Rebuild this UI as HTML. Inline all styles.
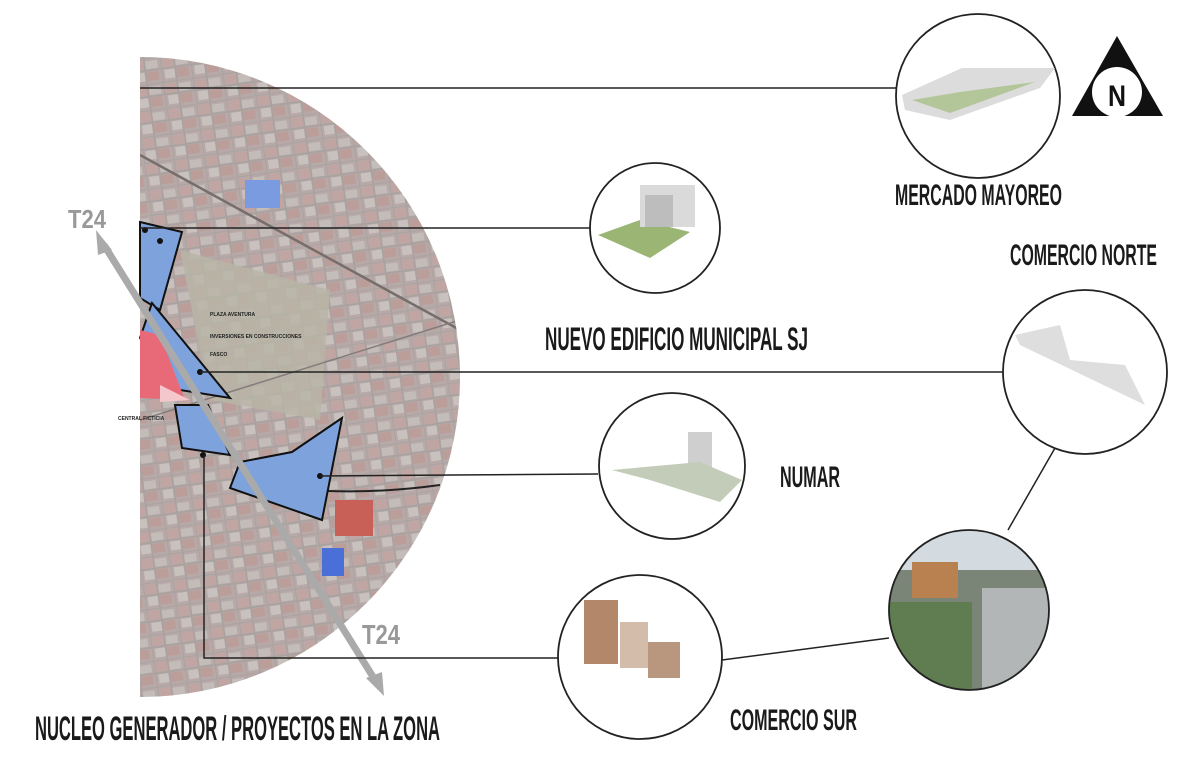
<!DOCTYPE html>
<html><head><meta charset="utf-8"><style>
html,body{margin:0;padding:0;background:#fff;width:1200px;height:776px;overflow:hidden}
svg{display:block}
text{font-family:"Liberation Sans Narrow","Liberation Sans",sans-serif;font-weight:bold}
</style></head><body>
<svg width="1200" height="776" viewBox="0 0 1200 776" xmlns="http://www.w3.org/2000/svg">
<defs>
<clipPath id="half"><path d="M140 57 A320 320 0 0 1 140 697 Z"/></clipPath>
<pattern id="city" width="30" height="26" patternUnits="userSpaceOnUse" patternTransform="rotate(-8)">
<rect width="30" height="26" fill="#a3918f"/>
<rect x="2" y="2" width="11" height="9" fill="#b08c88"/>
<rect x="15" y="3" width="12" height="8" fill="#b2aaa6"/>
<rect x="3" y="14" width="10" height="9" fill="#b9b0ac"/>
<rect x="15" y="14" width="12" height="9" fill="#a8837e"/>
<path d="M0 0H30M0 12.5H30M0 0V26M14 0V26" stroke="#8f8785" stroke-width="1.5"/>
</pattern>
<clipPath id="c6"><circle cx="969" cy="610" r="80"/></clipPath>
</defs>

<g clip-path="url(#half)">
<rect x="140" y="57" width="330" height="640" fill="url(#city)"/>
<rect x="140" y="57" width="330" height="640" fill="#fff" opacity="0.22"/>
<polygon points="180,250 330,290 320,420 210,400" fill="#b8b5a6" opacity="0.8"/>
<rect x="245" y="180" width="35" height="28" fill="#7b9be0"/>
<rect x="322" y="548" width="22" height="28" fill="#4a70d8"/>
<rect x="335" y="500" width="38" height="36" fill="#c86058"/>
<path d="M140 155 L460 330" stroke="#756e6c" stroke-width="2.5"/>
<path d="M140 420 L460 320" stroke="#837c7a" stroke-width="1.5"/>
<path d="M240 480 Q330 500 440 485" stroke="#222" stroke-width="2" fill="none"/>
</g>
<polygon points="140,222 182,232 160,310 140,298" fill="#7ea2dc" stroke="#111" stroke-width="2"/>
<polygon points="152,303 230,398 180,390 140,338" fill="#7ea2dc" stroke="#111" stroke-width="2"/>
<polygon points="140,330 160,335 185,400 140,398" fill="#e86a78"/>
<polygon points="160,385 190,400 160,402" fill="#f4c7cc"/>
<polygon points="175,405 208,405 230,455 182,448" fill="#7ea2dc" stroke="#111" stroke-width="2"/>
<polygon points="240,462 292,452 342,418 322,520 230,488" fill="#7ea2dc" stroke="#111" stroke-width="2"/>
<circle cx="145" cy="230" r="3" fill="#111"/><circle cx="160" cy="241" r="3" fill="#111"/>
<circle cx="200" cy="372" r="3" fill="#111"/><circle cx="320" cy="476" r="3" fill="#111"/>
<circle cx="203" cy="455" r="3" fill="#111"/>
<g fill="#222" font-size="5"><text x="210" y="316">PLAZA AVENTURA</text><text x="210" y="338">INVERSIONES EN CONSTRUCCIONES</text><text x="210" y="356">FASCO</text><text x="118" y="420">CENTRAL FICTICIA</text></g>

<line x1="104" y1="245" x2="375" y2="680" stroke="#aaa" stroke-width="7"/>
<polygon points="96,230 112,250 98,255" fill="#aaa"/>
<polygon points="384,696 366,678 382,672" fill="#aaa"/>
<text x="68" y="228" font-size="26" fill="#999" textLength="38" lengthAdjust="spacingAndGlyphs">T24</text>
<text x="362" y="644" font-size="28" fill="#999" textLength="38" lengthAdjust="spacingAndGlyphs">T24</text>

<g stroke="#222" stroke-width="1.5" fill="none">
<line x1="140" y1="88" x2="897" y2="88"/>
<line x1="140" y1="228" x2="590" y2="228"/>
<line x1="200" y1="372" x2="1003" y2="372"/>
<line x1="320" y1="476" x2="598" y2="474"/>
<polyline points="204,455 204,658 558,658"/>
<line x1="722" y1="660" x2="889" y2="638"/>
<line x1="1008" y1="530" x2="1055" y2="448"/>
</g>

<g stroke="#222" stroke-width="1.8" fill="#fff">
<circle cx="978" cy="96" r="82"/>
<circle cx="655" cy="228" r="65"/>
<circle cx="1085" cy="372" r="82"/>
<circle cx="672" cy="466" r="73"/>
<circle cx="640" cy="657" r="82"/>
</g>
<polygon points="902,95 962,68 1055,68 1040,88 950,120 905,110" fill="#dcdcdc"/>
<polygon points="912,100 960,92 1035,82 950,113" fill="#a9c08a" opacity="0.8"/>
<polygon points="598,235 640,220 690,232 650,258" fill="#9bb575"/>
<rect x="640" y="185" width="55" height="42" fill="#dadada"/>
<rect x="645" y="195" width="28" height="32" fill="#bdbdbd"/>
<polygon points="1015,335 1060,325 1070,360 1125,365 1145,405 1020,345" fill="#dedede"/>
<rect x="688" y="432" width="24" height="36" fill="#cfcfcf"/>
<polygon points="612,470 700,462 742,480 720,502 650,480" fill="#c3ccb8"/>
<rect x="584" y="600" width="34" height="64" fill="#b3886a"/>
<rect x="620" y="622" width="28" height="46" fill="#d4bcaa"/>
<rect x="648" y="642" width="32" height="36" fill="#b9977e"/>
<g clip-path="url(#c6)">
<rect x="880" y="520" width="180" height="180" fill="#7a8578"/>
<rect x="880" y="520" width="180" height="50" fill="#d3dbe0"/>
<rect x="912" y="562" width="46" height="36" fill="#b98050"/>
<rect x="982" y="588" width="80" height="110" fill="#b2b6b6"/>
<rect x="890" y="602" width="82" height="90" fill="#5f7d50"/>
</g>
<circle cx="969" cy="610" r="80" fill="none" stroke="#222" stroke-width="1.8"/>

<polygon points="1117,36 1163,116 1072,116" fill="#111"/>
<circle cx="1117" cy="92" r="25" fill="#fff"/>
<text x="1108" y="106" font-size="30" fill="#111" textLength="18" lengthAdjust="spacingAndGlyphs">N</text>

<g fill="#1a1a1a">
<text x="895" y="205" font-size="30" textLength="167" lengthAdjust="spacingAndGlyphs">MERCADO MAYOREO</text>
<text x="1010" y="265" font-size="30" textLength="147" lengthAdjust="spacingAndGlyphs">COMERCIO NORTE</text>
<text x="545" y="350" font-size="32" textLength="263" lengthAdjust="spacingAndGlyphs">NUEVO EDIFICIO MUNICIPAL SJ</text>
<text x="780" y="487" font-size="30" textLength="60" lengthAdjust="spacingAndGlyphs">NUMAR</text>
<text x="730" y="730" font-size="30" textLength="127" lengthAdjust="spacingAndGlyphs">COMERCIO SUR</text>
<text x="35" y="740" font-size="34" textLength="405" lengthAdjust="spacingAndGlyphs">NUCLEO GENERADOR / PROYECTOS EN LA ZONA</text>
</g>
</svg>
</body></html>
